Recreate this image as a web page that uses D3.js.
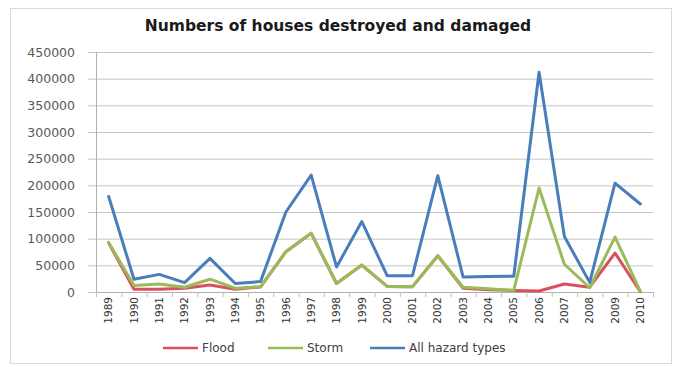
<!DOCTYPE html>
<html>
<head>
<meta charset="utf-8">
<script src="https://cdn.jsdelivr.net/npm/d3@7"></script>
<style>
  html, body { margin: 0; padding: 0; background: #fff; }
  svg { display: block; }
</style>
</head>
<body>
<svg id="chart" width="674" height="367"></svg>
<script>
const years = ["1989","1990","1991","1992","1993","1994","1995","1996","1997","1998","1999",
               "2000","2001","2002","2003","2004","2005","2006","2007","2008","2009","2010"];
const flood = [92000, 5000, 5000, 7000, 13000, 5000, 9500, 75500, 110000, 16000, 50500,
               10500, 10000, 68000, 7000, 4000, 3000, 2000, 15000, 9000, 73000, 500];
const storm = [93000, 12000, 15000, 9000, 24000, 7000, 10000, 75500, 110000, 16000, 50500,
               10500, 10000, 68000, 9000, 6000, 3000, 195000, 52000, 8000, 103000, 1000];
const allHazards = [179000, 24000, 33000, 17500, 63000, 16000, 19500, 150000, 219000, 47000, 132000,
                    30500, 30500, 218000, 28000, 29000, 29500, 412000, 104000, 18000, 204000, 165000];
const yTicks = [0, 50000, 100000, 150000, 200000, 250000, 300000, 350000, 400000, 450000];
const seriesNames = ["Flood", "Storm", "All hazard types"];
const seriesColors = ["#d9505f", "#9bbb59", "#4a7ebb"];
const title = "Numbers of houses destroyed and damaged";

const svg = d3.select("#chart");
const L = 96, R = 653, T = 52, B = 292;

// outer frame
svg.append("rect").attr("x", 10.5).attr("y", 8.5).attr("width", 661).attr("height", 355)
  .attr("fill", "#fff").attr("stroke", "#d9d9d9").attr("stroke-width", 1);

const x = d3.scaleBand().domain(years).range([L, R]).paddingInner(0).paddingOuter(0);
const y = d3.scaleLinear().domain([0, 450000]).range([B, T]);

// horizontal grid + y labels
const yAxis = d3.axisLeft(y).tickValues(yTicks).tickSize(R - 88).tickPadding(13).tickFormat(d3.format("d"));
const gy = svg.append("g").attr("transform", `translate(${R},0)`).call(yAxis);
gy.select(".domain").remove();
gy.selectAll(".tick line").attr("stroke", "#c6c6c6").attr("stroke-width", 1);
gy.selectAll(".tick text").attr("fill", "#595959").style("font-family", "DejaVu Sans")
  .style("font-size", "12.5px");

// vertical axis line
svg.append("line").attr("x1", L + 0.5).attr("x2", L + 0.5).attr("y1", T).attr("y2", B)
  .attr("stroke", "#b0b0b0");

// x axis
const xAxis = d3.axisBottom(x).tickSize(0).tickPadding(5);
const gx = svg.append("g").attr("transform", `translate(0,${B})`).call(xAxis);
gx.select(".domain").attr("stroke", "#b0b0b0");
gx.selectAll(".tick text")
  .attr("fill", "#333")
  .style("font-family", "DejaVu Sans").style("font-size", "10.5px")
  .attr("text-anchor", "end")
  .attr("transform", "rotate(-90)")
  .attr("x", -5).attr("y", 0).attr("dy", "0.35em");
// tick marks at band boundaries
gx.selectAll(".bound").data(years.concat(["end"])).enter().append("line")
  .attr("class", "bound")
  .attr("x1", (d, i) => L + i * x.bandwidth() + 0.5)
  .attr("x2", (d, i) => L + i * x.bandwidth() + 0.5)
  .attr("y1", 0).attr("y2", 5).attr("stroke", "#c0c0c0");

// lines
const line = d3.line().x((d, i) => x(years[i]) + x.bandwidth() / 2).y(d => y(d)).curve(d3.curveLinear);
[flood, storm, allHazards].forEach((s, k) => {
  svg.append("path").datum(s).attr("d", line).attr("fill", "none")
    .attr("stroke", seriesColors[k]).attr("stroke-width", 3)
    .attr("stroke-linejoin", "round").attr("stroke-linecap", "round");
});

// title
svg.append("text").attr("x", 338).attr("y", 31).attr("text-anchor", "middle")
  .style("font-family", "DejaVu Sans").style("font-weight", "bold").style("font-size", "15.5px")
  .attr("fill", "#1a1a1a").text(title);

// legend
const legendX = [163, 268, 370];
seriesNames.forEach((n, k) => {
  const g = svg.append("g").attr("transform", `translate(${legendX[k]},348)`);
  g.append("line").attr("x1", 0).attr("x2", 35).attr("y1", 0).attr("y2", 0)
    .attr("stroke", seriesColors[k]).attr("stroke-width", 2.5);
  g.append("text").attr("x", 39).attr("y", 0).attr("dy", "0.35em")
    .style("font-family", "DejaVu Sans").style("font-size", "12px").attr("fill", "#404040").text(n);
});
</script>
</body>
</html>
